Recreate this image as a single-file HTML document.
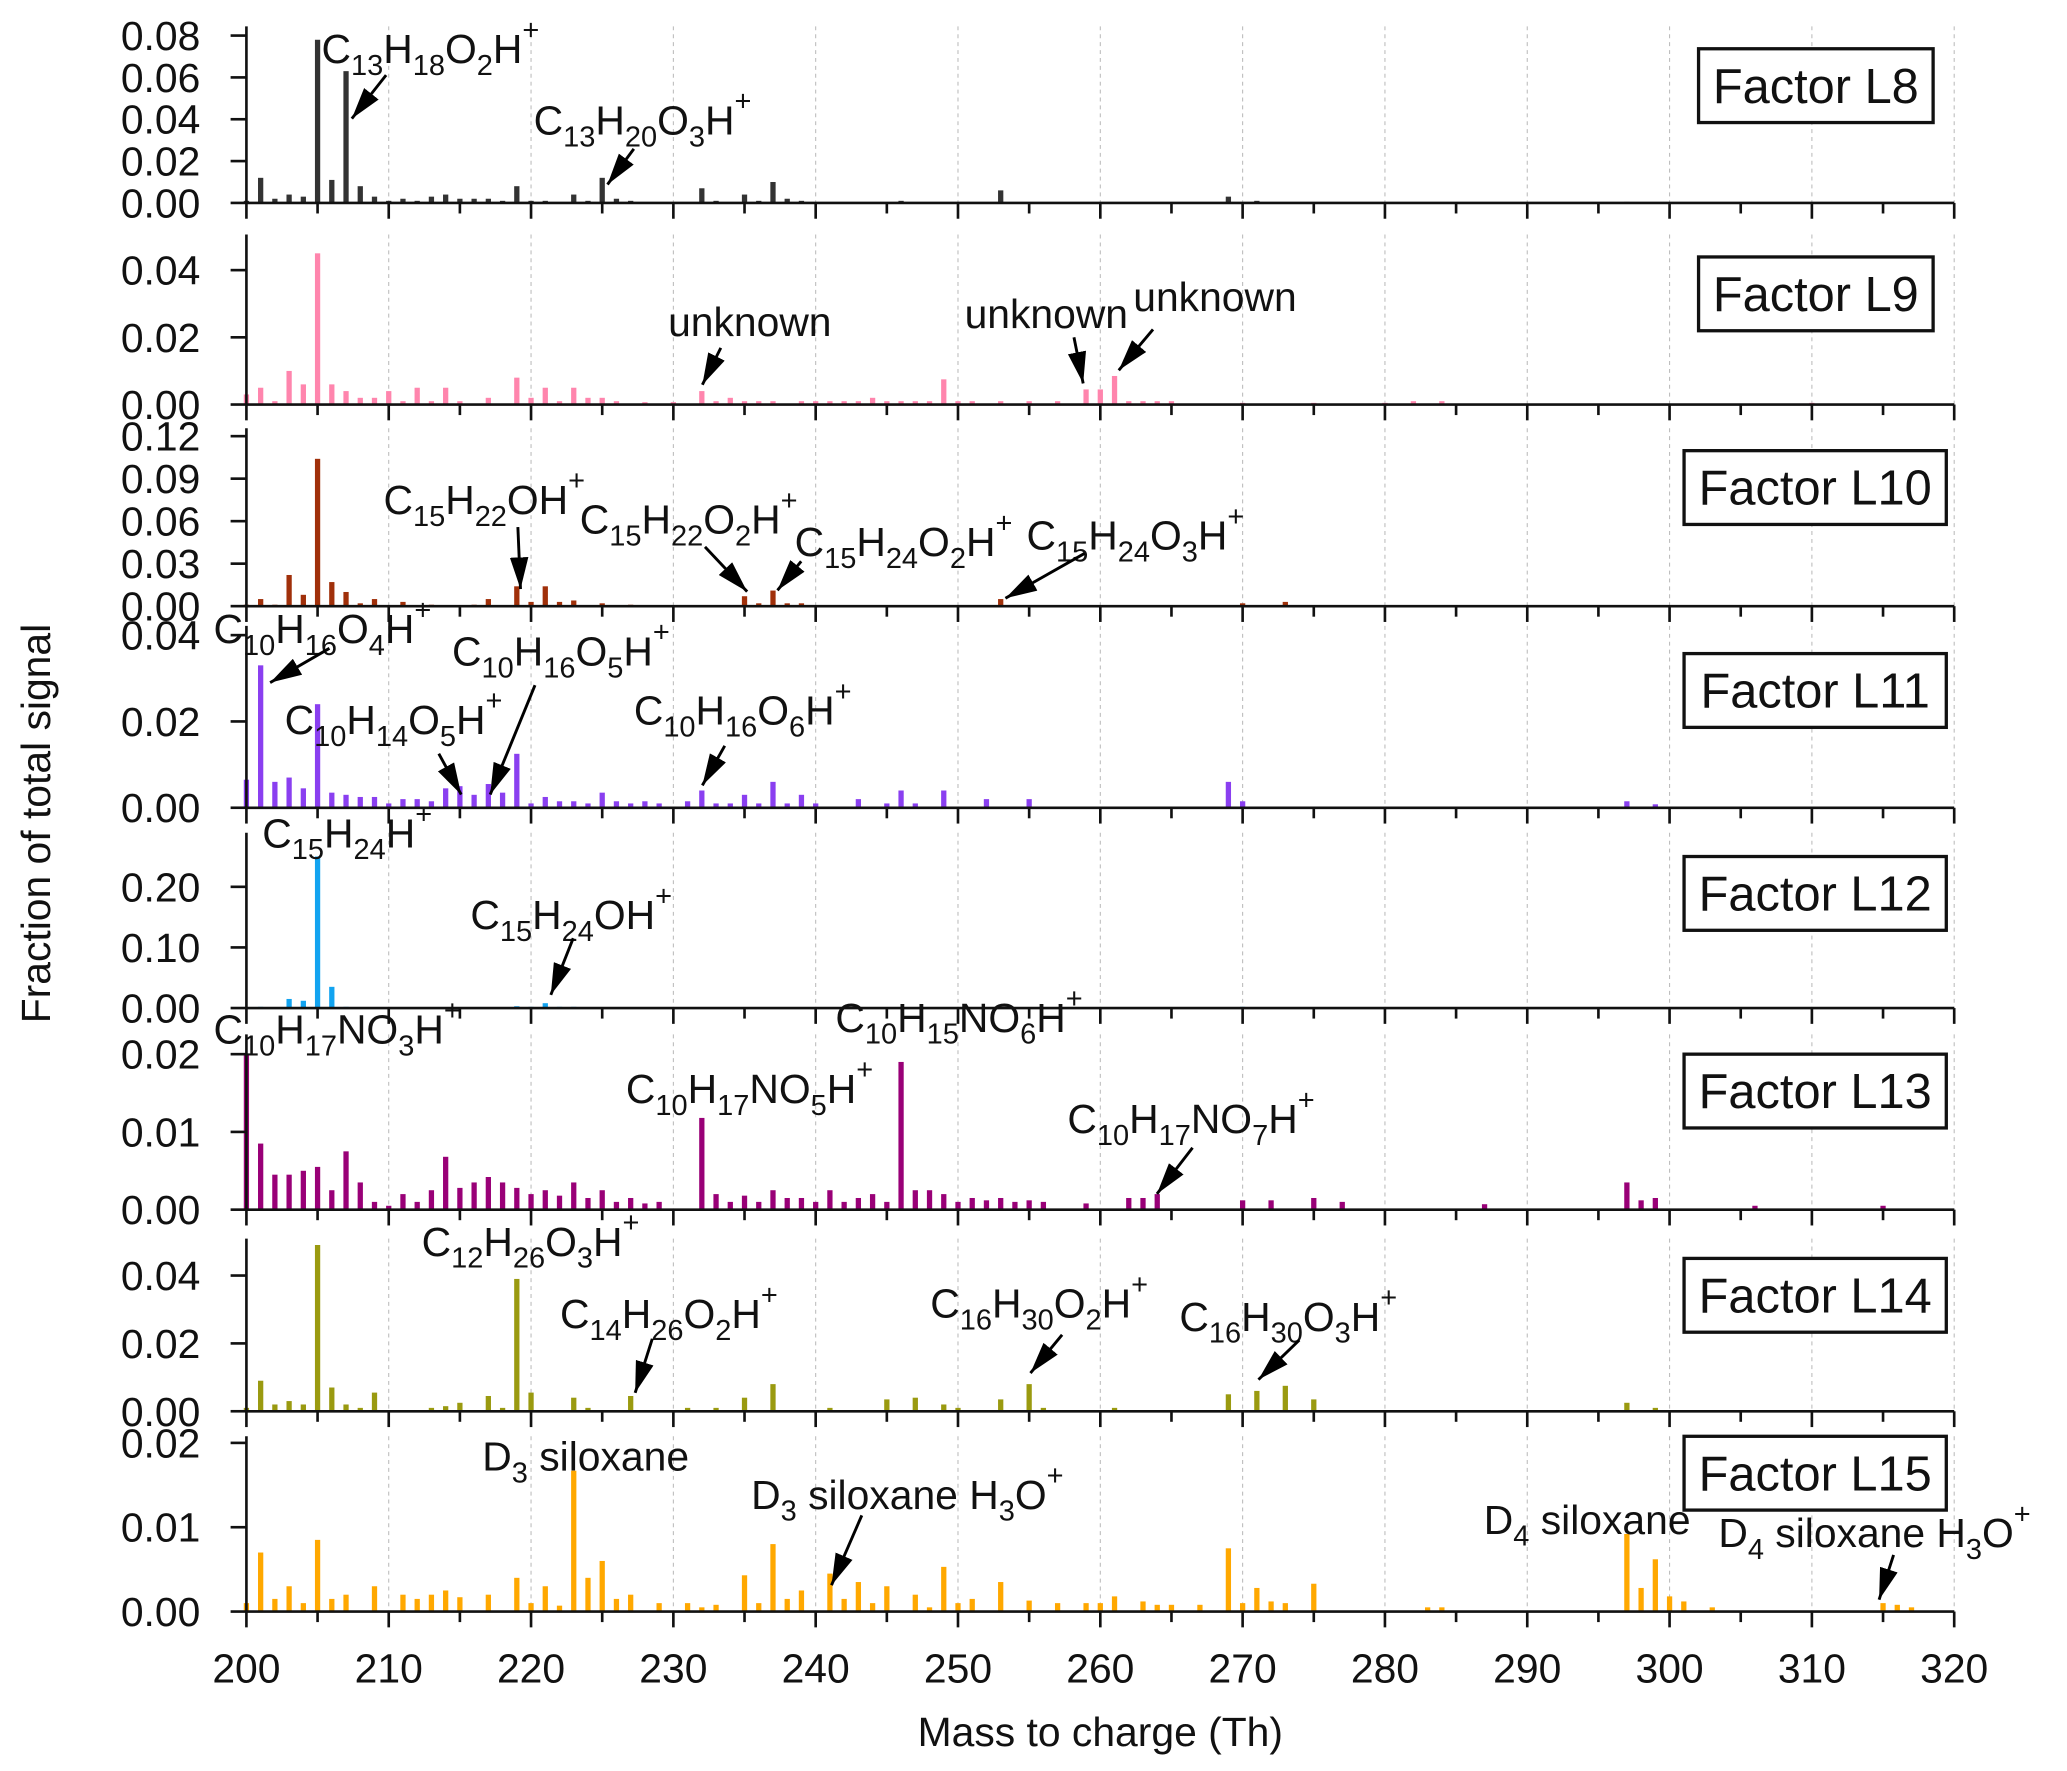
<!DOCTYPE html>
<html><head><meta charset="utf-8"><style>
html,body{margin:0;padding:0;background:#fff;}
svg{display:block;font-family:"Liberation Sans",sans-serif;}
</style></head>
<body>
<svg id="chart" width="2067" height="1771" viewBox="0 0 1568.6 1344" preserveAspectRatio="none" xmlns="http://www.w3.org/2000/svg">
<defs>
<marker id="ahb" viewBox="0 0 10 10" refX="10" refY="5" markerWidth="24" markerHeight="14" orient="auto" markerUnits="userSpaceOnUse" preserveAspectRatio="none"><path d="M0,0 L10,5 L0,10 z" fill="#000"/></marker></defs>
</svg>
<script>
const xTicks = [200,210,220,230,240,250,260,270,280,290,300,310,320];
const factorNames = ["Factor L8","Factor L9","Factor L10","Factor L11","Factor L12","Factor L13","Factor L14","Factor L15"];
const l8Mass = [200,201,202,203,204,205,206,207,208,209,210,211,212,213,214,215,216,217,218,219,220,221,223,224,225,226,227,232,233,235,236,237,238,239,246,253,269,271,297];
const l8Vals = [0.001,0.012,0.002,0.004,0.003,0.078,0.011,0.063,0.008,0.003,0.001,0.002,0.001,0.003,0.004,0.002,0.002,0.002,0.001,0.008,0.001,0.001,0.004,0.001,0.012,0.002,0.001,0.007,0.001,0.004,0.001,0.01,0.002,0.001,0.001,0.006,0.003,0.001,0.0005];
const l9Mass = [200,201,202,203,204,205,206,207,208,209,210,211,212,213,214,215,217,219,220,221,222,223,224,225,226,228,230,232,233,234,235,236,237,239,240,241,242,243,244,245,246,247,248,249,250,251,253,255,257,259,260,261,262,263,264,265,270,275,280,282,284,310];
const l9Vals = [0.003,0.005,0.001,0.01,0.006,0.045,0.006,0.004,0.002,0.002,0.004,0.001,0.005,0.001,0.005,0.001,0.002,0.008,0.002,0.005,0.001,0.005,0.002,0.002,0.001,0.0007,0.0007,0.004,0.001,0.002,0.001,0.001,0.001,0.001,0.001,0.001,0.001,0.001,0.002,0.001,0.001,0.001,0.001,0.0075,0.001,0.001,0.001,0.001,0.001,0.0045,0.0045,0.0085,0.001,0.001,0.001,0.001,0.0005,0.0005,0.0005,0.001,0.001,0.0005];
const l10Mass = [200,201,202,203,204,205,206,207,208,209,211,213,216,217,219,220,221,222,223,225,227,235,236,237,238,239,253,270,273];
const l10Vals = [0.001,0.005,0.001,0.022,0.008,0.104,0.017,0.01,0.002,0.005,0.003,0.001,0.001,0.005,0.014,0.003,0.014,0.003,0.004,0.002,0.001,0.007,0.002,0.011,0.002,0.002,0.005,0.002,0.003];
const l11Mass = [200,201,202,203,204,205,206,207,208,209,210,211,212,213,214,215,216,217,218,219,220,221,222,223,224,225,226,227,228,229,231,232,233,234,235,236,237,238,239,240,243,245,246,247,249,252,255,269,270,297,299];
const l11Vals = [0.0065,0.033,0.006,0.007,0.0045,0.024,0.0035,0.003,0.0025,0.0025,0.001,0.002,0.002,0.0015,0.0045,0.005,0.003,0.0055,0.0035,0.0125,0.001,0.0025,0.0015,0.0015,0.001,0.0035,0.0015,0.001,0.0015,0.001,0.0015,0.004,0.001,0.001,0.003,0.001,0.006,0.001,0.003,0.001,0.002,0.001,0.004,0.001,0.004,0.002,0.002,0.006,0.0015,0.0015,0.0008];
const l12Mass = [201,203,204,205,206,207,219,220,221,222,223,270];
const l12Vals = [0.002,0.015,0.012,0.25,0.035,0.002,0.003,0.002,0.008,0.002,0.002,0.002];
const l13Mass = [200,201,202,203,204,205,206,207,208,209,210,211,212,213,214,215,216,217,218,219,220,221,222,223,224,225,226,227,228,229,232,233,234,235,236,237,238,239,240,241,242,243,244,245,246,247,248,249,250,251,252,253,254,255,256,259,262,263,264,270,272,275,277,287,297,298,299,306,315];
const l13Vals = [0.02,0.0085,0.0045,0.0045,0.005,0.0055,0.0025,0.0075,0.0035,0.001,0.0005,0.002,0.001,0.0025,0.0068,0.0028,0.0035,0.0042,0.0035,0.0028,0.002,0.0025,0.0018,0.0035,0.0015,0.0025,0.001,0.0015,0.0008,0.001,0.0118,0.002,0.001,0.0018,0.001,0.0025,0.0015,0.0015,0.001,0.0025,0.001,0.0015,0.002,0.001,0.019,0.0025,0.0025,0.002,0.001,0.0015,0.0012,0.0015,0.001,0.0012,0.001,0.0008,0.0015,0.0015,0.002,0.0012,0.0012,0.0015,0.001,0.0007,0.0035,0.0012,0.0015,0.0005,0.0005];
const l14Mass = [200,201,202,203,204,205,206,207,208,209,213,214,215,217,218,219,220,223,224,227,231,233,235,237,241,245,247,249,250,253,255,256,261,269,271,273,275,297,299];
const l14Vals = [0.001,0.009,0.002,0.003,0.002,0.049,0.007,0.002,0.001,0.0055,0.001,0.0015,0.0025,0.0045,0.001,0.039,0.0055,0.004,0.001,0.0045,0.001,0.001,0.004,0.008,0.001,0.0035,0.004,0.002,0.001,0.0035,0.008,0.001,0.001,0.005,0.006,0.0075,0.0035,0.0025,0.001];
const l15Mass = [200,201,202,203,204,205,206,207,209,211,212,213,214,215,217,219,220,221,222,223,224,225,226,227,229,231,232,233,235,236,237,238,239,241,242,243,244,245,247,248,249,250,251,253,255,257,259,260,261,263,264,265,267,269,270,271,272,273,275,283,284,297,298,299,300,301,303,315,316,317];
const l15Vals = [0.001,0.007,0.0015,0.003,0.001,0.0085,0.0015,0.002,0.003,0.002,0.0015,0.002,0.0025,0.0017,0.002,0.004,0.001,0.003,0.0007,0.0167,0.004,0.006,0.0015,0.002,0.001,0.001,0.0005,0.0008,0.0043,0.001,0.008,0.0015,0.0025,0.0045,0.0015,0.0035,0.001,0.003,0.002,0.0005,0.0053,0.001,0.0015,0.0035,0.0013,0.001,0.001,0.001,0.0018,0.0012,0.0008,0.0008,0.0008,0.0075,0.001,0.0028,0.0012,0.001,0.0033,0.0005,0.0005,0.0092,0.0028,0.0062,0.0018,0.0012,0.0005,0.001,0.0008,0.0005];
const yTickLabels = [
 ["0.00","0.02","0.04","0.06","0.08"],
 ["0.00","0.02","0.04"],
 ["0.00","0.03","0.06","0.09","0.12"],
 ["0.00","0.02","0.04"],
 ["0.00","0.10","0.20"],
 ["0.00","0.01","0.02"],
 ["0.00","0.02","0.04"],
 ["0.00","0.01","0.02"]];

const NS = "http://www.w3.org/2000/svg";
const svg = document.getElementById("chart");
function mk(tag, attrs, parent){ const e=document.createElementNS(NS,tag); for(const k in attrs) e.setAttribute(k,attrs[k]); (parent||svg).appendChild(e); return e; }

const panels = [
 {zero:154, ppu:127/0.08, top:20, color:"#333333", box:[1289,37,178,56]},
 {zero:307, ppu:102/0.04, top:178, color:"#ff85ad", box:[1289,195,178,56]},
 {zero:460, ppu:129/0.12, top:325, color:"#a0300a", box:[1278,342,199,56]},
 {zero:613, ppu:131/0.04, top:475, color:"#8a3ff0", box:[1278,496,199,56]},
 {zero:765, ppu:92/0.20, top:632, color:"#12a3f0", box:[1278,650,199,56]},
 {zero:918, ppu:118/0.02, top:785, color:"#990077", box:[1278,800,199,56]},
 {zero:1071, ppu:103/0.04, top:940, color:"#9a9a10", box:[1278,955,199,56]},
 {zero:1223, ppu:128/0.02, top:1090, color:"#ffa800", box:[1278,1090,199,56]}];
const masses = [l8Mass,l9Mass,l10Mass,l11Mass,l12Mass,l13Mass,l14Mass,l15Mass];
const values = [l8Vals,l9Vals,l10Vals,l11Vals,l12Vals,l13Vals,l14Vals,l15Vals];
const X0 = 187, X1 = 1483;
function xScale(m){ return X0 + (m-200)/(120)*(X1-X0); }

panels.forEach((p,i)=>{
  const g = mk("g",{});
  
  
  const yS = v => p.zero - v*p.ppu;
  xTicks.forEach(t=>{ if(t===200) return;
    const gl = mk("line",{x1:xScale(t),x2:xScale(t),y1:p.top,y2:p.zero,stroke:"#bbb","stroke-width":0.8,"stroke-dasharray":"3,3"},g);
    
    
  });
  masses[i].forEach((m,j)=>{
    const v = values[i][j];
    const b = mk("rect",{x:xScale(m)-2,y:yS(v),width:4,height:Math.max(0,p.zero-yS(v)),fill:p.color},g);
    
    
  });
  const xa = mk("line",{x1:X0,x2:X1,y1:p.zero,y2:p.zero,stroke:"#111","stroke-width":2},g);
  
  
  for(let t=200;t<=320;t+=5){
    const len = (t%10===0)?12:8;
    const tk = mk("line",{x1:xScale(t),x2:xScale(t),y1:p.zero,y2:p.zero+len,stroke:"#111","stroke-width":2},g);
    
    
  }
  const ya = mk("line",{x1:X0,x2:X0,y1:p.top,y2:p.zero,stroke:"#111","stroke-width":2},g);
  
  
  yTickLabels[i].forEach(lbl=>{
    const v = parseFloat(lbl); const y = yS(v);
    const tk = mk("line",{x1:X0-12,x2:X0,y1:y,y2:y,stroke:"#111","stroke-width":2},g);
    
    
    const tx = mk("text",{x:152,y:y+11,"text-anchor":"end","font-size":31,fill:"#111"},g);
    tx.textContent = lbl;
    
    
  });
  const [bx,by,bw,bh] = p.box;
  const r = mk("rect",{x:bx,y:by,width:bw,height:bh,fill:"#fff",stroke:"#111","stroke-width":2.5},g);
  
  
  const lt = mk("text",{x:bx+bw/2,y:by+bh/2+13,"text-anchor":"middle","font-size":37,fill:"#111"},g);
  lt.textContent = factorNames[i];
  
  
});

xTicks.forEach(t=>{
  const tx = mk("text",{x:xScale(t),y:1277,"text-anchor":"middle","font-size":31,fill:"#111"});
  tx.textContent = t;
  
  
});
const xt = mk("text",{x:835,y:1325,"text-anchor":"middle","font-size":31,fill:"#111"});
xt.textContent = "Mass to charge (Th)";


const yt = mk("text",{x:0,y:0,"text-anchor":"middle","font-size":31,fill:"#111",transform:"translate(38,625) rotate(-90)"});
yt.textContent = "Fraction of total signal";



function formula(str){
  const parts=[]; const re=/(_\d+|\^\+|[^_^]+)/g; let m;
  while((m=re.exec(str))){ const s=m[0];
    if(s[0]==='_') parts.push([s.slice(1),'sub']); else if(s[0]==='^') parts.push(['+','sup']); else parts.push([s,'n']); }
  return parts;
}
function label(x,y,str,name){
  const t = mk("text",{x:x,y:y,"font-size":31,fill:"#111"});
  
  
  let state='n';
  formula(str).forEach(([s,k])=>{
    const ts = document.createElementNS(NS,"tspan");
    let dy=0;
    if(k==='sub'){ dy = (state==='sub')?0:(state==='sup'?22:9); ts.setAttribute("font-size",22); }
    else if(k==='sup'){ dy = (state==='sub')?-27:-18; ts.setAttribute("font-size",22); }
    else { dy = state==='sub'?-9:(state==='sup'?18:0); }
    if(dy) ts.setAttribute("dy",dy);
    ts.textContent=s; t.appendChild(ts); state=k;
  });
}
function arrow(x1,y1,x2,y2){
  const a = mk("line",{x1:x1,y1:y1,x2:x2,y2:y2,stroke:"#000","stroke-width":2.2,"marker-end":"url(#ahb)"});
  
  
}
label(244,48,"C_13H_18O_2H^+","label-c13h18o2h"); arrow(293,57,267,90);
label(405,102,"C_13H_20O_3H^+","label-c13h20o3h"); arrow(481,113,461,140);
label(507,255,"unknown","label-unknown-1"); arrow(547,264,533,292);
label(732,249,"unknown","label-unknown-2"); arrow(815,256,822,291);
label(860,236,"unknown","label-unknown-3"); arrow(875,250,849,281);
label(291,390,"C_15H_22OH^+","label-c15h22oh"); arrow(393,400,395,447);
label(440,405,"C_15H_22O_2H^+","label-c15h22o2h"); arrow(535,415,567,449);
label(603,422,"C_15H_24O_2H^+","label-c15h24o2h"); arrow(608,426,590,448);
label(779,417,"C_15H_24O_3H^+","label-c15h24o3h"); arrow(823,420,763,454);
label(162,488,"C_10H_16O_4H^+","label-c10h16o4h"); arrow(250,492,205,518);
label(343,505,"C_10H_16O_5H^+","label-c10h16o5h"); arrow(406,520,372,603);
label(216,557,"C_10H_14O_5H^+","label-c10h14o5h"); arrow(333,572,350,603);
label(481,550,"C_10H_16O_6H^+","label-c10h16o6h"); arrow(550,566,533,596);
label(199,643,"C_15H_24H^+","label-c15h24h");
label(357,705,"C_15H_24OH^+","label-c15h24oh"); arrow(435,712,418,755);
label(162,792,"C_10H_17NO_3H^+","label-c10h17no3h");
label(634,783,"C_10H_15NO_6H^+","label-c10h15no6h");
label(475,837,"C_10H_17NO_5H^+","label-c10h17no5h");
label(810,860,"C_10H_17NO_7H^+","label-c10h17no7h"); arrow(905,871,878,906);
label(320,953,"C_12H_26O_3H^+","label-c12h26o3h");
label(425,1008,"C_14H_26O_2H^+","label-c14h26o2h"); arrow(495,1016,482,1057);
label(706,1000,"C_16H_30O_2H^+","label-c16h30o2h"); arrow(806,1013,782,1042);
label(895,1010,"C_16H_30O_3H^+","label-c16h30o3h"); arrow(986,1017,955,1047);
label(366,1116,"D_3 siloxane","label-d3-siloxane");
label(570,1145,"D_3 siloxane H_3O^+","label-d3-siloxane-h3o"); arrow(654,1150,631,1203);
label(1126,1164,"D_4 siloxane","label-d4-siloxane");
label(1304,1174,"D_4 siloxane H_3O^+","label-d4-siloxane-h3o"); arrow(1437,1180,1426,1214);
</script>
</body></html>
